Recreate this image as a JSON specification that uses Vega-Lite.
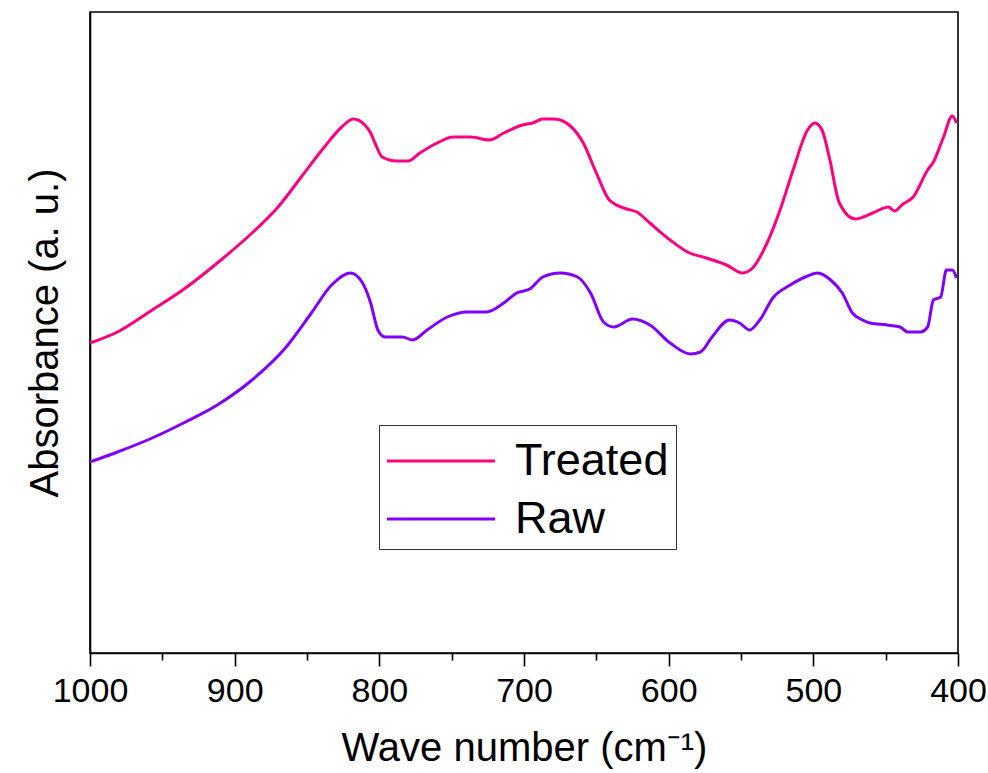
{
  "$schema": "https://vega.github.io/schema/vega-lite/v6.json",
  "width": 868,
  "height": 641,
  "autosize": {"type": "none"},
  "padding": {"left": 90, "top": 12, "right": 30, "bottom": 120},
  "background": "white",
  "config": {
    "font": "Liberation Sans",
    "view": {"stroke": "black", "strokeWidth": 1.6},
    "axis": {"grid": false, "domainColor": "black", "domainWidth": 1.6, "tickColor": "black", "tickWidth": 1.6, "labelColor": "black", "titleColor": "black", "titleFontWeight": "normal"}
  },
  "data": {
    "values": [
      {"w": 1000, "a": 310, "s": "Treated"}, {"w": 981, "a": 321, "s": "Treated"}, {"w": 957, "a": 343, "s": "Treated"},
      {"w": 934, "a": 365, "s": "Treated"}, {"w": 912, "a": 390, "s": "Treated"}, {"w": 888, "a": 420, "s": "Treated"},
      {"w": 870, "a": 446, "s": "Treated"}, {"w": 854, "a": 476, "s": "Treated"}, {"w": 838, "a": 506, "s": "Treated"},
      {"w": 826, "a": 526, "s": "Treated"}, {"w": 818, "a": 534, "s": "Treated"}, {"w": 810, "a": 528, "s": "Treated"},
      {"w": 806, "a": 520, "s": "Treated"}, {"w": 803, "a": 510, "s": "Treated"}, {"w": 798, "a": 496, "s": "Treated"},
      {"w": 788, "a": 492, "s": "Treated"}, {"w": 780, "a": 492, "s": "Treated"}, {"w": 772, "a": 500, "s": "Treated"},
      {"w": 760, "a": 510, "s": "Treated"}, {"w": 749, "a": 516, "s": "Treated"}, {"w": 737, "a": 516, "s": "Treated"},
      {"w": 724, "a": 513, "s": "Treated"}, {"w": 714, "a": 520, "s": "Treated"}, {"w": 701, "a": 528, "s": "Treated"},
      {"w": 694, "a": 530, "s": "Treated"}, {"w": 687, "a": 534, "s": "Treated"}, {"w": 679, "a": 534, "s": "Treated"},
      {"w": 668, "a": 527, "s": "Treated"}, {"w": 659, "a": 510, "s": "Treated"}, {"w": 650, "a": 480, "s": "Treated"},
      {"w": 641, "a": 453, "s": "Treated"}, {"w": 629, "a": 444, "s": "Treated"}, {"w": 622, "a": 441, "s": "Treated"},
      {"w": 613, "a": 430, "s": "Treated"}, {"w": 599, "a": 413, "s": "Treated"}, {"w": 587, "a": 401, "s": "Treated"},
      {"w": 574, "a": 395, "s": "Treated"}, {"w": 560, "a": 388, "s": "Treated"}, {"w": 549, "a": 380, "s": "Treated"},
      {"w": 542, "a": 385, "s": "Treated"}, {"w": 532, "a": 410, "s": "Treated"}, {"w": 523, "a": 443, "s": "Treated"},
      {"w": 514, "a": 483, "s": "Treated"}, {"w": 504, "a": 523, "s": "Treated"}, {"w": 499, "a": 530, "s": "Treated"},
      {"w": 494, "a": 523, "s": "Treated"}, {"w": 489, "a": 496, "s": "Treated"}, {"w": 482, "a": 450, "s": "Treated"},
      {"w": 471, "a": 434, "s": "Treated"}, {"w": 459, "a": 440, "s": "Treated"}, {"w": 448, "a": 446, "s": "Treated"},
      {"w": 444, "a": 442, "s": "Treated"}, {"w": 438, "a": 449, "s": "Treated"}, {"w": 431, "a": 456, "s": "Treated"},
      {"w": 421, "a": 483, "s": "Treated"}, {"w": 417, "a": 491, "s": "Treated"}, {"w": 410, "a": 516, "s": "Treated"},
      {"w": 404, "a": 537, "s": "Treated"}, {"w": 401, "a": 530, "s": "Treated"},

      {"w": 1000, "a": 191, "s": "Raw"}, {"w": 981, "a": 201, "s": "Raw"}, {"w": 957, "a": 215, "s": "Raw"},
      {"w": 934, "a": 231, "s": "Raw"}, {"w": 912, "a": 248, "s": "Raw"}, {"w": 888, "a": 273, "s": "Raw"},
      {"w": 865, "a": 305, "s": "Raw"}, {"w": 847, "a": 340, "s": "Raw"}, {"w": 833, "a": 368, "s": "Raw"},
      {"w": 820, "a": 380, "s": "Raw"}, {"w": 812, "a": 371, "s": "Raw"}, {"w": 806, "a": 350, "s": "Raw"},
      {"w": 801, "a": 323, "s": "Raw"}, {"w": 796, "a": 316, "s": "Raw"}, {"w": 793, "a": 316, "s": "Raw"},
      {"w": 784, "a": 316, "s": "Raw"}, {"w": 777, "a": 313, "s": "Raw"}, {"w": 767, "a": 323, "s": "Raw"},
      {"w": 753, "a": 336, "s": "Raw"}, {"w": 739, "a": 341, "s": "Raw"}, {"w": 726, "a": 341, "s": "Raw"},
      {"w": 714, "a": 350, "s": "Raw"}, {"w": 705, "a": 360, "s": "Raw"}, {"w": 696, "a": 364, "s": "Raw"},
      {"w": 687, "a": 376, "s": "Raw"}, {"w": 675, "a": 380, "s": "Raw"}, {"w": 663, "a": 376, "s": "Raw"},
      {"w": 654, "a": 360, "s": "Raw"}, {"w": 645, "a": 331, "s": "Raw"}, {"w": 638, "a": 326, "s": "Raw"},
      {"w": 625, "a": 334, "s": "Raw"}, {"w": 613, "a": 328, "s": "Raw"}, {"w": 599, "a": 310, "s": "Raw"},
      {"w": 585, "a": 299, "s": "Raw"}, {"w": 578, "a": 301, "s": "Raw"}, {"w": 570, "a": 316, "s": "Raw"},
      {"w": 558, "a": 333, "s": "Raw"}, {"w": 551, "a": 330, "s": "Raw"}, {"w": 544, "a": 323, "s": "Raw"},
      {"w": 537, "a": 333, "s": "Raw"}, {"w": 528, "a": 355, "s": "Raw"}, {"w": 516, "a": 368, "s": "Raw"},
      {"w": 504, "a": 377, "s": "Raw"}, {"w": 497, "a": 380, "s": "Raw"}, {"w": 488, "a": 373, "s": "Raw"},
      {"w": 480, "a": 360, "s": "Raw"}, {"w": 473, "a": 340, "s": "Raw"}, {"w": 466, "a": 333, "s": "Raw"},
      {"w": 461, "a": 330, "s": "Raw"}, {"w": 449, "a": 328, "s": "Raw"}, {"w": 440, "a": 326, "s": "Raw"},
      {"w": 435, "a": 321, "s": "Raw"}, {"w": 426, "a": 321, "s": "Raw"}, {"w": 421, "a": 326, "s": "Raw"},
      {"w": 417, "a": 353, "s": "Raw"}, {"w": 412, "a": 356, "s": "Raw"}, {"w": 408, "a": 383, "s": "Raw"},
      {"w": 404, "a": 383, "s": "Raw"}, {"w": 401, "a": 375, "s": "Raw"}
    ]
  },
  "mark": {"type": "line", "strokeWidth": 3, "interpolate": "monotone"},
  "encoding": {
    "x": {
      "field": "w",
      "type": "quantitative",
      "scale": {"domain": [1000, 400], "nice": false, "zero": false},
      "axis": {
        "title": "Wave number (cm⁻¹)",
        "titleFontSize": 40,
        "titlePadding": 20,
        "values": [1000, 950, 900, 850, 800, 750, 700, 650, 600, 550, 500, 450, 400],
        "labelExpr": "datum.value % 100 === 0 ? datum.label : ''",
        "labelFontSize": 34,
        "labelPadding": 8,
        "labelFlush": false,
        "labelOverlap": false,
        "labelBound": false,
        "format": "d",
        "tickSize": {"condition": {"test": "datum.value % 100 === 0", "value": 13}, "value": 7}
      }
    },
    "y": {
      "field": "a",
      "type": "quantitative",
      "scale": {"domain": [0, 641], "nice": false},
      "axis": {
        "title": "Absorbance (a. u.)",
        "titleFontSize": 40,
        "titlePadding": 25,
        "labels": false,
        "ticks": false
      }
    },
    "color": {
      "field": "s",
      "type": "nominal",
      "sort": ["Treated", "Raw"],
      "scale": {"domain": ["Treated", "Raw"], "range": ["#FF0080", "#8000FF"]},
      "legend": {
        "title": null,
        "orient": "none",
        "legendX": 289,
        "legendY": 413,
        "padding": 7,
        "strokeColor": "#333333",
        "fillColor": "white",
        "symbolType": "M -1.018 0 H 2.909",
        "symbolSize": 3025,
        "symbolStrokeWidth": 3,
        "labelFontSize": 45,
        "labelColor": "black",
        "labelOffset": 71,
        "rowPadding": 6
      }
    }
  }
}
